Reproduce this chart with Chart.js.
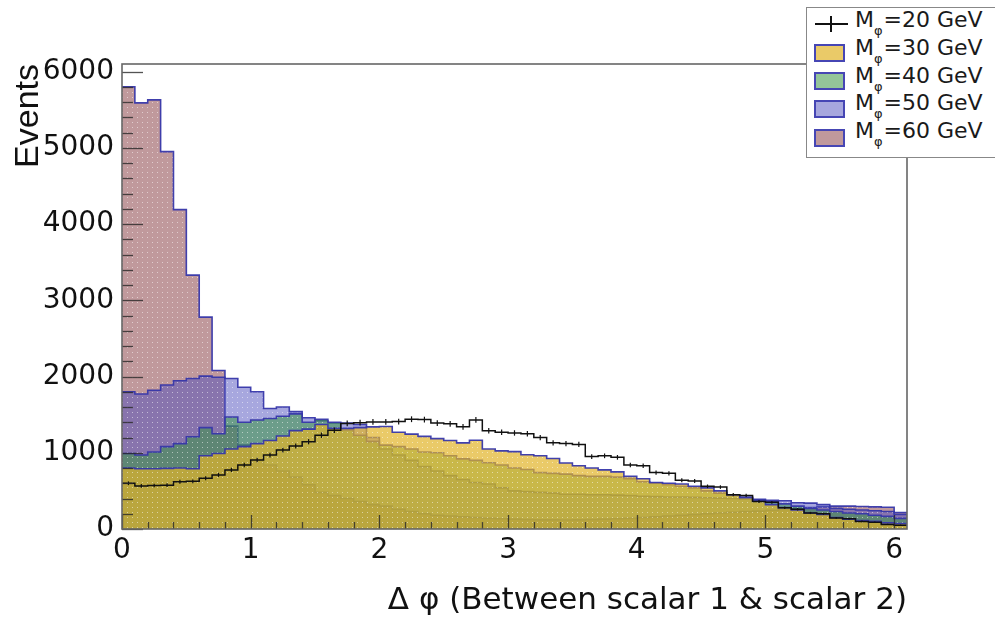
<!DOCTYPE html>
<html>
<head>
<meta charset="utf-8">
<script src="https://cdn.jsdelivr.net/npm/chart.js@4.4.1/dist/chart.umd.min.js"></script>
<style>
html,body{margin:0;padding:0;background:#fff;}
#wrap{position:relative;width:995px;height:622px;overflow:hidden;}
#c{position:absolute;left:0;top:0;}
#legend{position:absolute;left:806px;top:7px;width:200px;height:151px;background:#fff;border:1.5px solid #888;box-sizing:border-box;}
.txt{position:absolute;left:855px;font-family:"DejaVu Sans";font-size:22px;line-height:22px;color:#1a1a1a;white-space:nowrap;}
.sub{font-size:13px;position:relative;top:8px;margin:0 1px 0 0;}
.box{position:absolute;left:814px;width:31px;height:18px;box-sizing:border-box;border:2px solid rgb(70,70,180);}
.hl{position:absolute;left:815px;top:23px;width:33px;height:1.5px;background:#111;}
.vl{position:absolute;left:830px;top:16px;width:1.5px;height:16px;background:#111;}
</style>
</head>
<body>
<div id="wrap">
<canvas id="c" width="995" height="622"></canvas>
<div id="legend"></div>
<div class="hl"></div><div class="vl"></div>
<div class="txt" style="top:9px">M<span class="sub">φ</span>=20 GeV</div>
<div class="box" style="top:44px;background:rgba(225,180,40,0.7)"></div>
<div class="txt" style="top:37px">M<span class="sub">φ</span>=30 GeV</div>
<div class="box" style="top:72px;background:rgba(60,150,70,0.55)"></div>
<div class="txt" style="top:65px">M<span class="sub">φ</span>=40 GeV</div>
<div class="box" style="top:100px;background:rgba(80,80,190,0.5)"></div>
<div class="txt" style="top:92px">M<span class="sub">φ</span>=50 GeV</div>
<div class="box" style="top:129px;background:rgba(150,85,90,0.6)"></div>
<div class="txt" style="top:120px">M<span class="sub">φ</span>=60 GeV</div>
</div>
<script>
// ---- binning (Δφ bins of width 0.1) ----
const X_MIN = 0;
const X_MAX = 6.1;
const BIN_WIDTH = 0.1;
const N_BINS = 61;
const binLow = Array.from({length: N_BINS}, (_, i) => +(X_MIN + i * BIN_WIDTH).toFixed(2));

// ---- tick labels ----
const Y_MAX = 6100;
const yTickValues = [0, 1000, 2000, 3000, 4000, 5000, 6000];
const xTickValues = [0, 1, 2, 3, 4, 5, 6];

// ---- series (events per bin) ----
const m20 = [600,565,570,575,620,625,665,710,775,840,905,970,1035,1090,1145,1230,1295,1385,1395,1405,1405,1410,1440,1435,1390,1380,1340,1430,1290,1270,1260,1250,1200,1130,1120,1110,950,960,940,840,830,740,730,640,630,560,550,450,440,360,350,280,260,210,200,145,135,100,90,60,50];
const m30 = [800,790,790,795,800,790,960,990,1050,1080,1120,1160,1220,1290,1310,1370,1320,1320,1330,1340,1345,1270,1245,1215,1185,1160,1130,1165,1050,1025,1015,975,960,925,865,830,800,775,750,690,660,610,600,590,560,540,500,450,410,370,320,280,250,210,190,150,130,110,100,80,70];
const m40 = [990,970,1010,1080,1120,1210,1330,1250,1470,1400,1430,1450,1480,1510,1400,1440,1400,1300,1230,1150,1100,1080,1050,1010,1000,960,920,900,870,840,800,780,740,730,720,700,690,690,680,660,620,600,580,560,540,500,470,440,420,390,360,330,300,270,250,230,210,200,180,165,140];
const m50 = [1800,1770,1820,1890,1945,1975,2005,1990,1975,1860,1800,1580,1600,1540,1460,1420,1390,1390,1370,1200,1050,970,900,820,760,700,650,610,590,540,500,490,480,470,455,455,450,450,445,440,430,425,420,420,415,410,405,400,390,380,375,370,345,340,320,270,260,250,240,230,190];
const m60 = [5800,5590,5630,4950,4190,3330,2780,2080,1350,1100,900,840,760,680,580,480,440,400,360,320,300,260,230,200,180,170,160,150,140,135,130,125,120,120,118,120,125,130,135,140,150,160,170,180,190,200,210,220,230,235,245,255,270,280,290,300,300,295,290,285,215];

const canvas = document.getElementById('c');
const ctx2d = canvas.getContext('2d');

function makePattern(r, g, b, a) {
  const t = document.createElement('canvas');
  t.width = 5; t.height = 5;
  const x = t.getContext('2d');
  x.fillStyle = `rgba(${r},${g},${b},${a})`;
  x.fillRect(0, 0, 5, 5);
  x.clearRect(2, 2, 1, 1);
  const m = f => Math.round(f + (255 - f) * 0.5);
  x.fillStyle = `rgba(${m(r)},${m(g)},${m(b)},${a})`;
  x.fillRect(2, 2, 1, 1);
  return ctx2d.createPattern(t, 'repeat');
}

function toPoints(vals) {
  const pts = vals.map((v, i) => ({x: binLow[i], y: v}));
  pts.push({x: X_MAX, y: vals[vals.length - 1]});
  return pts;
}

const outline = 'rgba(55,55,170,0.95)';
function histo(label, vals, fillPat) {
  return {
    label, data: toPoints(vals), stepped: true, pointRadius: 0, tension: 0,
    borderColor: outline, borderWidth: 1.6, backgroundColor: fillPat, fill: 'origin'
  };
}

const datasets = [
  {label: 'M=20 GeV', data: toPoints(m20), stepped: true, pointRadius: 0, borderColor: '#111', borderWidth: 1.5, fill: false},
  histo('M=30 GeV', m30, makePattern(225, 180, 40, 0.7)),
  histo('M=40 GeV', m40, makePattern(60, 150, 70, 0.55)),
  histo('M=50 GeV', m50, makePattern(80, 80, 190, 0.5)),
  histo('M=60 GeV', m60, makePattern(150, 85, 90, 0.6))
];

const framePlugin = {
  id: 'frame',
  afterDatasetsDraw(chart) {
    const {ctx, chartArea: a, scales: {x, y}} = chart;
    ctx.save();
    // error bars of the 20 GeV histogram
    ctx.strokeStyle = '#111'; ctx.lineWidth = 1.2;
    m20.forEach((v, i) => {
      const px = x.getPixelForValue(binLow[i] + BIN_WIDTH / 2);
      const e = Math.sqrt(v);
      ctx.beginPath();
      ctx.moveTo(px, y.getPixelForValue(v - e));
      ctx.lineTo(px, y.getPixelForValue(v + e));
      ctx.stroke();
    });
    // inside ticks
    ctx.strokeStyle = 'rgba(40,40,40,0.8)'; ctx.lineWidth = 1.3;
    for (let k = 0; k * 200 <= Y_MAX; k++) {
      const py = Math.round(y.getPixelForValue(k * 200)) + 0.5;
      const len = (k % 5 === 0) ? 21 : 11;
      ctx.beginPath(); ctx.moveTo(a.left, py); ctx.lineTo(a.left + len, py); ctx.stroke();
    }
    for (let k = 0; k * 0.2 <= X_MAX + 1e-9; k++) {
      const px = Math.round(x.getPixelForValue(k * 0.2)) + 0.5;
      const len = (k % 5 === 0) ? 14 : 7;
      ctx.beginPath(); ctx.moveTo(px, a.bottom); ctx.lineTo(px, a.bottom - len); ctx.stroke();
    }
    // frame
    ctx.strokeStyle = '#666'; ctx.lineWidth = 1.6;
    ctx.strokeRect(a.left, a.top, a.right - a.left, a.bottom - a.top);
    ctx.restore();
  }
};

new Chart(canvas, {
  type: 'line',
  data: {datasets},
  options: {
    responsive: false, animation: false, devicePixelRatio: 1,
    layout: {padding: {left: 0, right: 88, top: 64, bottom: 0}},
    plugins: {legend: {display: false}, tooltip: {enabled: false}},
    scales: {
      x: {
        type: 'linear', min: X_MIN, max: X_MAX,
        afterFit: s => { s.height = 93; },
        afterBuildTicks: s => { s.ticks = xTickValues.map(v => ({value: v})); },
        grid: {display: false, drawTicks: false},
        border: {display: false},
        ticks: {maxRotation: 0, padding: 5, autoSkip: false,
                callback: v => String(v),
                color: '#111', font: {family: 'DejaVu Sans', size: 28}},
        title: {display: true, text: 'Δ φ (Between scalar 1 & scalar 2)', align: 'end',
                color: '#111', font: {family: 'DejaVu Sans', size: 31}, padding: {top: 0, bottom: 2}}
      },
      y: {
        type: 'linear', min: 0, max: Y_MAX,
        afterFit: s => { s.width = 122; },
        afterBuildTicks: s => { s.ticks = yTickValues.map(v => ({value: v})); },
        grid: {display: false, drawTicks: false},
        border: {display: false},
        ticks: {padding: 8, autoSkip: false,
                callback: v => String(v),
                color: '#111', font: {family: 'DejaVu Sans', size: 28}},
        title: {display: true, text: 'Events', align: 'end',
                color: '#111', font: {family: 'Liberation Sans', size: 34}, padding: {top: 8, bottom: 0}}
      }
    }
  },
  plugins: [framePlugin]
});
</script>
</body>
</html>
